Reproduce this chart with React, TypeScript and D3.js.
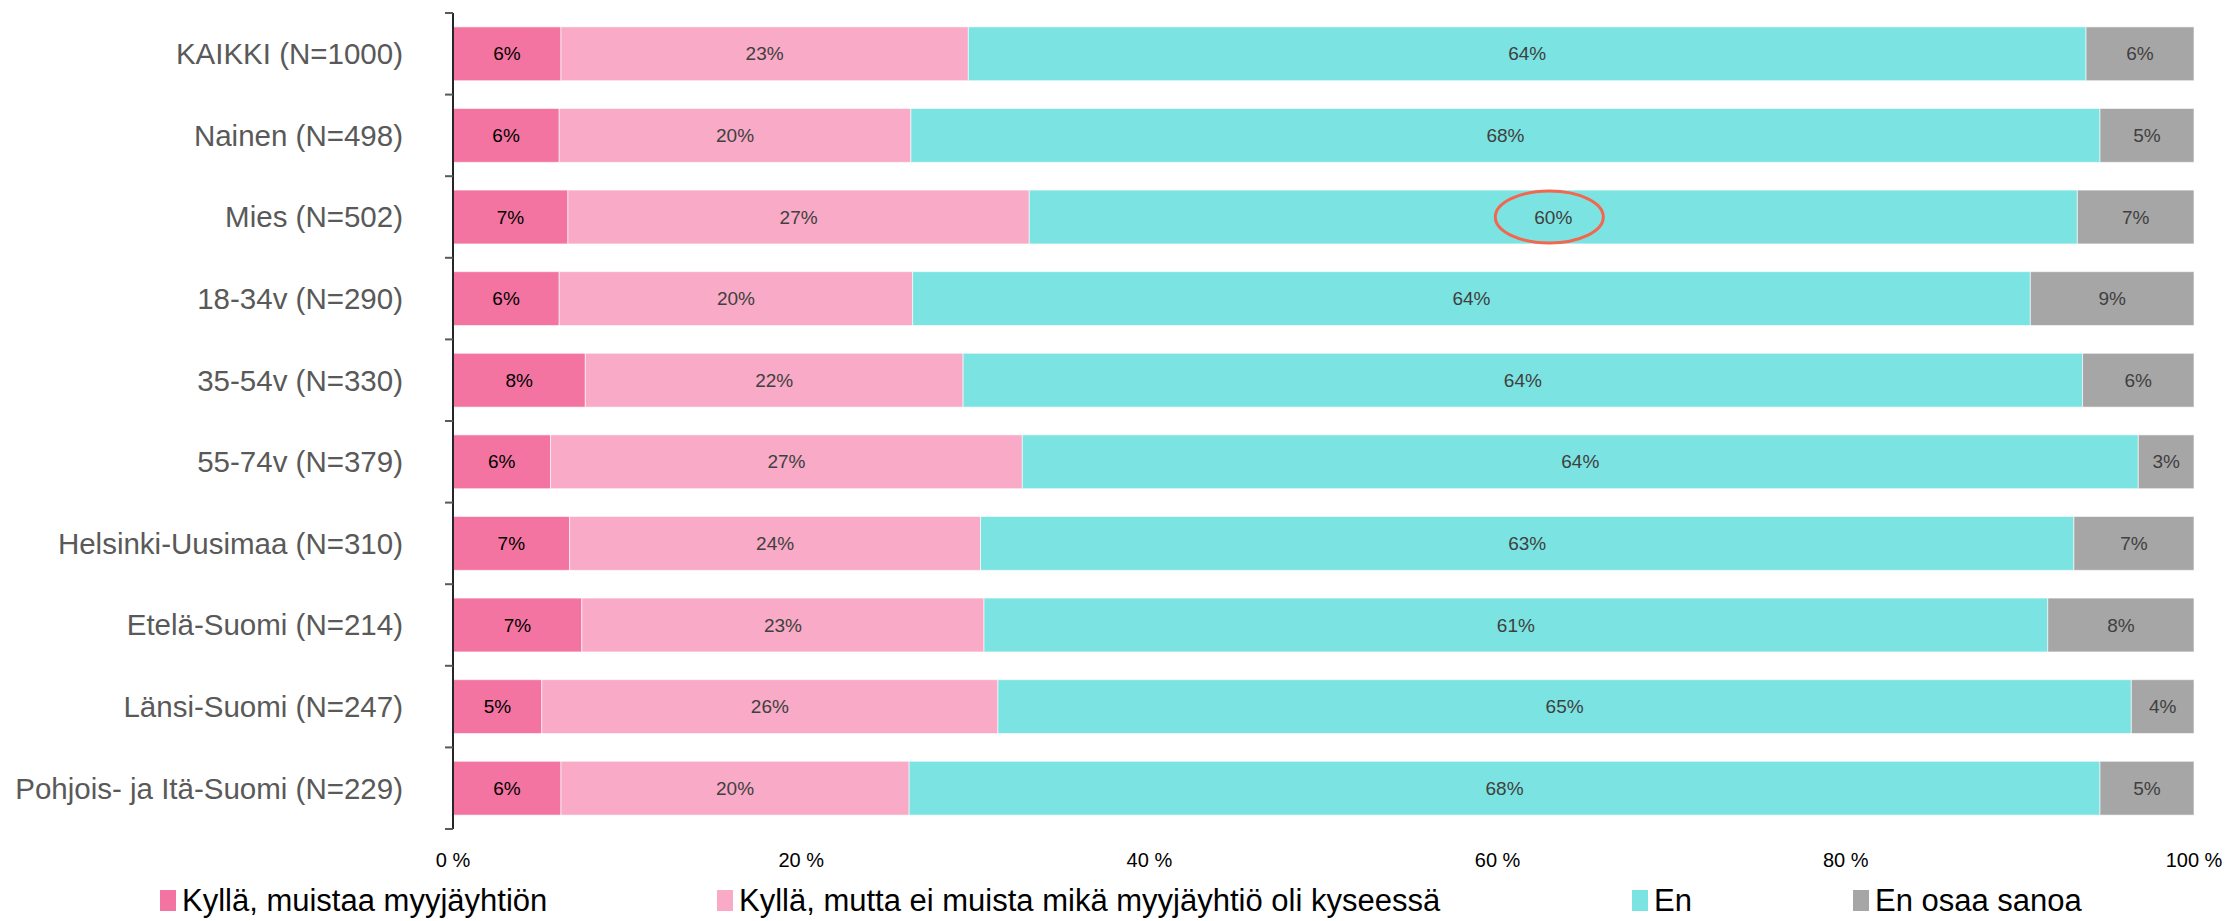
import React from "react";
import { scaleBand, scaleLinear } from "d3";

const categories = [
  "KAIKKI (N=1000)",
  "Nainen (N=498)",
  "Mies (N=502)",
  "18-34v (N=290)",
  "35-54v (N=330)",
  "55-74v (N=379)",
  "Helsinki-Uusimaa (N=310)",
  "Etelä-Suomi (N=214)",
  "Länsi-Suomi (N=247)",
  "Pohjois- ja Itä-Suomi (N=229)",
];

const seriesNames = [
  "Kyllä, muistaa myyjäyhtiön",
  "Kyllä, mutta ei muista mikä myyjäyhtiö oli kyseessä",
  "En",
  "En osaa sanoa",
];
const colors = ["#F374A0", "#F8AAC6", "#7BE4E2", "#A6A6A6"];

// shares per category, in %
const muistaa = [6.2, 6.1, 6.6, 6.1, 7.6, 5.6, 6.7, 7.4, 5.1, 6.2];
const eiMuista = [23.4, 20.2, 26.5, 20.3, 21.7, 27.1, 23.6, 23.1, 26.2, 20.0];
const en = [64.2, 68.3, 60.2, 64.2, 64.3, 64.1, 62.8, 61.1, 65.1, 68.4];
const eos = [6.2, 5.4, 6.7, 9.4, 6.4, 3.2, 6.9, 8.4, 3.6, 5.4];
const series = [muistaa, eiMuista, en, eos];

const xTicks = [0, 20, 40, 60, 80, 100];
const highlight = { row: 2, series: 2 }; // circled "60%"
const legendX = [160, 717, 1632, 1853];

const font = "'Liberation Sans', Arial, sans-serif";

export default function App() {
  const width = 2234;
  const height = 921;
  const x = scaleLinear().domain([0, 100]).range([453, 2194]);
  const y = scaleBand()
    .domain(categories)
    .range([13, 829])
    .paddingInner(0.34)
    .paddingOuter(0.17);
  const step = y.step();
  const boundaries = categories.map((_, i) => 13 + i * step).concat([829]);

  return (
    <svg
      width={width}
      height={height}
      style={{ position: "absolute", left: 0, top: 0, background: "#fff" }}
      fontFamily={font}
    >
      {categories.map((cat, i) => {
        let acc = 0;
        const yy = y(cat) as number;
        const bw = y.bandwidth();
        return (
          <g key={cat}>
            {series.map((s, k) => {
              const x0 = x(acc);
              acc += s[i];
              const x1 = x(acc);
              const label = Math.round(s[i]) + "%";
              return (
                <g key={k}>
                  <rect
                    x={x0}
                    y={yy}
                    width={x1 - x0}
                    height={bw}
                    fill={colors[k]}
                    stroke="#fff"
                    strokeOpacity={0.6}
                    strokeWidth={1}
                  />
                  <text
                    x={(x0 + x1) / 2}
                    y={yy + bw / 2}
                    dy="0.35em"
                    textAnchor="middle"
                    fontSize={19}
                    fill={k === 0 ? "#000" : "#404040"}
                  >
                    {label}
                  </text>
                  {highlight.row === i && highlight.series === k && (
                    <ellipse
                      cx={(x0 + x1) / 2 - 4}
                      cy={yy + bw / 2}
                      rx={54}
                      ry={26}
                      fill="none"
                      stroke="#F4664E"
                      strokeWidth={3}
                    />
                  )}
                </g>
              );
            })}
            <text
              x={403}
              y={yy + bw / 2}
              dy="0.35em"
              textAnchor="end"
              fontSize={29.5}
              fill="#595959"
            >
              {cat}
            </text>
          </g>
        );
      })}

      {/* category axis */}
      <line x1={453} x2={453} y1={13} y2={829} stroke="#262626" strokeWidth={2} />
      {boundaries.map((b, i) => (
        <line key={i} x1={445} x2={453} y1={b} y2={b} stroke="#595959" strokeWidth={2} />
      ))}

      {/* value axis labels */}
      {xTicks.map((t) => (
        <text
          key={t}
          x={x(t)}
          y={860}
          dy="0.35em"
          textAnchor="middle"
          fontSize={20}
          fill="#000"
        >
          {t} %
        </text>
      ))}

      {/* legend */}
      {seriesNames.map((name, k) => (
        <g key={name} transform={`translate(${legendX[k]},900)`}>
          <rect x={0} y={-10} width={16} height={21} fill={colors[k]} />
          <text x={22} y={0} dy="0.35em" fontSize={31} fill="#000">
            {name}
          </text>
        </g>
      ))}
    </svg>
  );
}
